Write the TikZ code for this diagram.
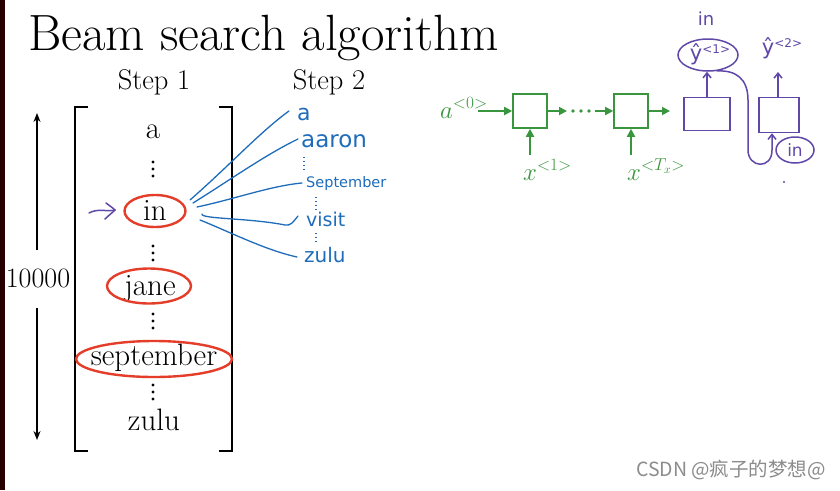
\documentclass[tikz,border=0pt]{standalone}
\usepackage{fontspec}
\newfontfamily\cjk{Noto Sans CJK SC}
\newfontfamily\hand{DejaVu Sans}
\usetikzlibrary{shapes.geometric,arrows.meta,calc}
\definecolor{slred}{RGB}{228,62,42}
\definecolor{penblue}{RGB}{30,108,186}
\definecolor{ngreen}{RGB}{58,150,62}
\definecolor{penpurple}{RGB}{96,72,168}
\newcommand{\yhatsup}[1]{ŷ\raisebox{0.55ex}{\fontsize{12}{12}\selectfont <#1>}}
\begin{document}
\begin{tikzpicture}[x=1pt,y=-1pt,
  word/.style={font=\fontsize{31}{33}\selectfont, inner sep=0, anchor=base},
  redell/.style={draw=slred, ellipse, line width=2.4pt, inner sep=0},
  gbox/.style={draw=ngreen, line width=1.6pt, minimum width=34pt, minimum height=34pt, inner sep=0},
  garrow/.style={draw=ngreen, line width=1.8pt, -{Triangle[length=8pt,width=8pt]}},
  gtext/.style={text=ngreen, font=\fontsize{26}{28}\selectfont, inner sep=0},
  bpen/.style={draw=penblue, line width=1.3pt, line cap=round},
  btext/.style={text=penblue, inner sep=0, anchor=west},
  bdots/.style={draw=penblue, line width=1.2pt, dash pattern=on 1pt off 3pt},
  ppen/.style={draw=penpurple, line width=1.5pt, line cap=round, line join=round},
  ptext/.style={text=penpurple, font=\hand\fontsize{18}{19}\selectfont, inner sep=0},
  pmath/.style={text=penpurple, font=\hand\fontsize{21}{22}\selectfont, inner sep=0},
  blk/.style={draw=black, line width=1.3pt}]
\useasboundingbox (0,0) rectangle (840,490);
\fill[white] (0,0) rectangle (840,490);
\fill[black!85!red] (0,0) rectangle (5,490);

% title and headers
\node[anchor=base west, inner sep=0] (title) at (28,50) {\fontsize{51}{55}\selectfont Beam search algorithm};
\node[word, font=\fontsize{28.5}{30}\selectfont] (step1) at (154,89) {Step 1};
\node[word, font=\fontsize{28.5}{30}\selectfont] (step2) at (329,89) {Step 2};

% bracket
\draw[blk] (88,107) -- (75,107) -- (75,451) -- (88,451);
\draw[blk] (219,107) -- (232,107) -- (232,451) -- (219,451);

% vocabulary list
\node[word] (wa) at (153,138) {a};
\node[word] (win) at (155,220) {in};
\node[word] (wjane) at (150,295) {jane};
\node[word] (wsep) at (154,365) {september};
\node[word] (wzulu) at (154,430) {zulu};
\foreach \c in {169,253,321,392}{
  \foreach \d in {-7,0,7}{\fill (153,\c+\d) circle (1.6);}
}

% red ellipses
\node[redell, minimum width=61pt, minimum height=32pt] (inE) at (155,211) {};
\node[redell, minimum width=84pt, minimum height=35pt] (janeE) at (149,286) {};
\node[redell, minimum width=156pt, minimum height=36pt] (sepE) at (154,359) {};

% 10000 arrow
\node[inner sep=0, anchor=base, font=\fontsize{28}{30}\selectfont] (n10k) at (38,287) {10000};
\coordinate (top) at (37,113);
\coordinate (bot) at (37,440);
\coordinate (g1) at (37,250);
\coordinate (g2) at (37,308);
\draw[blk, -{Stealth[length=9pt,width=7pt]}] (g1) -- (top);
\draw[blk, -{Stealth[length=9pt,width=7pt]}] (g2) -- (bot);

% purple pointer
\coordinate (pa1) at (89,213);
\coordinate (pa2) at (115,210);
\draw[ppen] (pa1) .. controls (98,208) and (106,212) .. (pa2);
\draw[ppen] (106,203) .. controls (110,206) and (113,208) .. (pa2) .. controls (112,213) and (108,216) .. (105,219);

% blue step 2 words
\node[btext, font=\hand\fontsize{22}{23}\selectfont] (ba) at (297,114) {a};
\node[btext, font=\hand\fontsize{23}{24}\selectfont] (baaron) at (301,141) {aaron};
\node[btext, font=\hand\fontsize{14.5}{16}\selectfont] (bsep) at (306,183) {September};
\node[btext, font=\hand\fontsize{19}{20}\selectfont] (bvisit) at (306,219) {visit};
\node[btext, font=\hand\fontsize{20}{21}\selectfont] (bzulu) at (304,255) {zulu};
\draw[bdots] (304,157) -- (304,173);
\draw[bdots] (316,197) -- (316,211);
\draw[bdots] (316,233) -- (316,244);

% blue lines
\coordinate (s1) at (190,200);
\coordinate (s2) at (193,203);
\coordinate (s3) at (197,207);
\coordinate (s4) at (202,214);
\coordinate (s5) at (200,220);
\draw[bpen] (s1) .. controls (230,165) and (260,132) .. ([xshift=-8pt,yshift=3pt]ba.west);
\draw[bpen] (s2) .. controls (230,180) and (265,155) .. ([xshift=-3pt,yshift=2pt]baaron.west);
\draw[bpen] (s3) .. controls (235,199) and (270,186) .. ([xshift=-4pt]bsep.west);
\draw[bpen] (s4) .. controls (200,219) and (250,218) .. (285,225) .. controls (291,226) and (293,222) .. ([xshift=-8pt,yshift=3pt]bvisit.west);
\draw[bpen] (s5) .. controls (230,232) and (265,250) .. ([xshift=-7pt,yshift=-2pt]bzulu.west);

% green RNN encoder
\node[gtext, anchor=base west] (a0) at (440,118) {$a^{<0>}$};
\node[gbox] (b1) at (530,111) {};
\node[gbox] (b2) at (631,111) {};
\coordinate (dl) at (567,111);
\coordinate (dr) at (595,111);
\foreach \x in {573,581,589}{\fill[ngreen] (\x,111) circle (1.8);}
\coordinate (b3in) at (670,111);
\draw[garrow] (a0.east |- b1.west) ++(-10,0) -- (b1.west);
\draw[garrow] (b1.east) -- (dl);
\draw[garrow] (dr) -- (b2.west);
\draw[garrow] (b2.east) -- (b3in);
\node[gtext, anchor=base west] (x1) at (523,180) {$x^{<1>}$};
\node[gtext, anchor=base west] (xT) at (627,180) {$x^{<T_x>}$};
\coordinate (x1t) at (530,155);
\coordinate (xTt) at (631,155);
\draw[garrow] (x1t) -- (b1.south);
\draw[garrow] (xTt) -- (b2.south);

% purple decoder
\node[draw=penpurple, line width=1.5pt, minimum width=46pt, minimum height=33pt, inner sep=0] (b3) at (707,114) {};
\node[draw=penpurple, line width=1.5pt, minimum width=40pt, minimum height=35pt, inner sep=0] (b4) at (779,115) {};
\node[draw=penpurple, line width=1.5pt, ellipse, minimum width=60pt, minimum height=32pt, inner sep=0] (e1) at (708,55) {};
\node[pmath] (y1) at (710,54) {\yhatsup{1}};
\node[ptext] (in1) at (706,19) {in};
\node[pmath] (y2) at (782,48) {\yhatsup{2}};
\node[draw=penpurple, line width=1.5pt, ellipse, minimum width=38pt, minimum height=26pt, inner sep=0, text=penpurple, font=\hand\fontsize{17}{18}\selectfont] (e2) at (795,150) {in};
\draw[ppen, -{Straight Barb[length=5pt,width=8pt]}] (b3.north) -- (e1.south -| b3.north);
\coordinate (y2b) at (778,72);
\draw[ppen, -{Straight Barb[length=5pt,width=8pt]}] (b4.north -| y2b) -- (y2b);
\coordinate (b4in) at ($(b4.south)+(-7,0)$);
\draw[ppen, -{Straight Barb[length=5pt,width=8pt]}] (e1.-60) .. controls (735,70) and (748,78) .. (748,100) -- (748,150) .. controls (748,168) and (772,170) .. (772,150) -- (b4in);
\fill[penpurple] (784,182) circle (1.2);

% watermark
\node[inner sep=0, text=black!45, font=\cjk\fontsize{19.5}{20}\selectfont] (wm) at (731,470) {CSDN @疯子的梦想@};
\end{tikzpicture}
\end{document}
